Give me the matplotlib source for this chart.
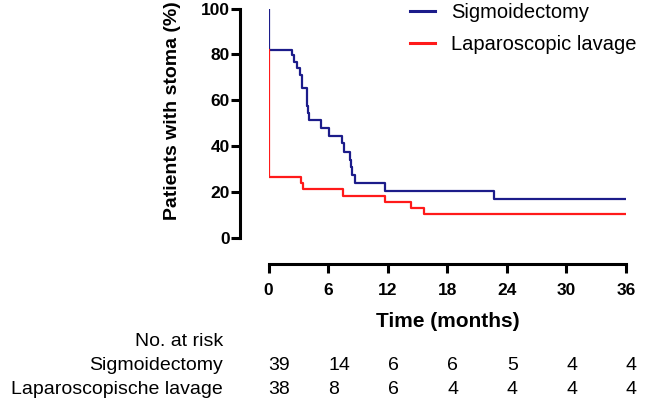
import matplotlib
matplotlib.use("Agg")
import matplotlib.pyplot as plt

plt.rcParams['font.family'] = ['Liberation Sans', 'DejaVu Sans']

# Kaplan-Meier step data (time in months, % patients with stoma)
sig_times = [0, 0, 2.33, 2.6, 2.85, 3.15, 3.4, 3.83, 3.9, 4.0, 4.1, 5.28, 6.05,
             7.45, 7.6, 8.17, 8.3, 8.45, 8.7, 11.7, 22.7, 36]
sig_vals = [100, 81.9, 79.7, 76.8, 73.9, 71.0, 65.2, 61.5, 57.5, 54.4, 51.3, 48.0,
            44.5, 41.2, 37.5, 33.9, 31.0, 27.3, 24.0, 20.5, 17.0, 17.0]

lav_times = [0, 0, 3.27, 3.43, 7.55, 11.75, 14.4, 15.66, 36]
lav_vals = [81.9, 26.3, 24.0, 21.1, 18.2, 15.7, 13.1, 10.3, 10.3]

series_labels = ["Sigmoidectomy", "Laparoscopic lavage"]
risk_labels = ["Sigmoidectomy", "Laparoscopische lavage"]
risk_times = [0, 6, 12, 18, 24, 30, 36]
risk_sig = [39, 14, 6, 6, 5, 4, 4]
risk_lav = [38, 8, 6, 4, 4, 4, 4]

W, H = 645, 404
fig = plt.figure(figsize=(W / 100, H / 100), dpi=100)

def px(x, y):
    return x / W, 1 - y / H

left, right = 268.5, 626
top, bottom = 8.6, 237.6
ax = fig.add_axes([left / W, 1 - bottom / H, (right - left) / W, (bottom - top) / H])

blue = '#1c1c8a'
red = '#ff1a1a'
ax.step(sig_times, sig_vals, where='post', color=blue, lw=1.6, label=series_labels[0])
ax.step(lav_times, lav_vals, where='post', color=red, lw=1.6, label=series_labels[1])

ax.set_xlim(0, 36)
ax.set_ylim(0, 100)
ax.set_xticks(risk_times)
ax.set_yticks([0, 20, 40, 60, 80, 100])

for s in ['top', 'right']:
    ax.spines[s].set_visible(False)
ax.spines['left'].set_position(('outward', 20.5))
ax.spines['bottom'].set_position(('outward', 19.0))
ax.spines['left'].set_bounds(0, 100)
ax.spines['bottom'].set_bounds(0, 36)
for s in ['left', 'bottom']:
    ax.spines[s].set_linewidth(2.2)
ax.tick_params(axis='both', width=2.2, length=6.5, labelsize=12.5)
ax.tick_params(axis='y', pad=1)
ax.tick_params(axis='x', pad=7)
for lab in ax.get_xticklabels() + ax.get_yticklabels():
    lab.set_fontweight('bold')

ax.set_xlabel("Time (months)", fontsize=15, fontweight='bold')
ax.xaxis.set_label_coords((448 - left) / (right - left), 1 - (321.7 - top) / (bottom - top))
ax.xaxis.label.set_va('center')
ax.set_ylabel("Patients with stoma (%)", fontsize=14, fontweight='bold')
ax.yaxis.set_label_coords((172 - left) / (right - left), 1 - (111 - top) / (bottom - top))
ax.yaxis.label.set_va('center')

leg = ax.legend(loc='upper left', bbox_to_anchor=px(410, 3), bbox_transform=fig.transFigure,
                frameon=False, fontsize=14.5, handlelength=1.25, handletextpad=0.8,
                labelspacing=0.65, borderpad=0, borderaxespad=0)
for l in leg.get_lines():
    l.set_linewidth(2.2)

fs = 14
fig.text(*px(223, 342), "No. at risk", ha='right', va='center', fontsize=fs)
fig.text(*px(223, 366), risk_labels[0], ha='right', va='center', fontsize=fs)
fig.text(*px(223, 390), risk_labels[1], ha='right', va='center', fontsize=fs)

for t, a, b in zip(risk_times, risk_sig, risk_lav):
    xf = ax.transData.transform((t, 0))[0] / (fig.dpi * fig.get_figwidth())
    fig.text(xf, 1 - 366 / H, str(a), ha='left', va='center', fontsize=fs)
    fig.text(xf, 1 - 390 / H, str(b), ha='left', va='center', fontsize=fs)

fig.savefig("out.png", dpi=100)
